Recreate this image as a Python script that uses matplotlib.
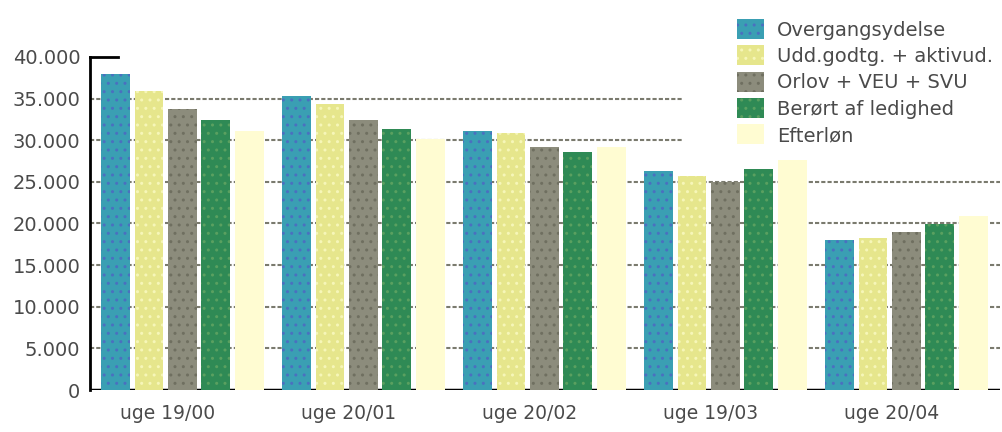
import matplotlib
matplotlib.use("Agg")
import matplotlib.pyplot as plt
import numpy as np
from matplotlib.patches import Rectangle

categories = ["uge 19/00", "uge 20/01", "uge 20/02", "uge 19/03", "uge 20/04"]
series_names = ["Overgangsydelse", "Udd.godtg. + aktivud.", "Orlov + VEU + SVU",
                "Berørt af ledighed", "Efterløn"]
overgangsydelse = [37900, 35300, 31150, 26350, 18000]
udd_godtg = [35950, 34400, 30900, 25750, 18300]
orlov = [33700, 32400, 29200, 25000, 19000]
beroert = [32400, 31400, 28600, 26600, 19900]
efterloen = [31150, 30200, 29200, 27600, 20900]
yticks = [0, 5000, 10000, 15000, 20000, 25000, 30000, 35000, 40000]
ytick_labels = ["0", "5.000", "10.000", "15.000", "20.000", "25.000", "30.000", "35.000", "40.000"]

series = [overgangsydelse, udd_godtg, orlov, beroert, efterloen]
colors = ["#3a9fb3", "#e6e68c", "#8c8c7c", "#2f8a55", "#fffcd2"]
hatchcols = ["#4a70c0", "#f6f6b8", "#6f6f60", "#5aa060", "#fffcd2"]

W, H = 1003, 432
fig = plt.figure(figsize=(W / 100, H / 100), dpi=100)
ax = fig.add_axes([90 / W, (H - 390) / H, (1000 - 90) / W, (390 - 57) / H])

plt.rcParams['hatch.linewidth'] = 1.0
x = np.arange(len(categories))
step = 0.185
width = 0.16
for k, (vals, c, hc, name) in enumerate(zip(series, colors, hatchcols, series_names)):
    ax.bar(x + (k - 2) * step, vals, width=width, color=c, edgecolor=hc, linewidth=0,
           hatch=".." if k < 4 else None, label=name, zorder=3)

ax.set_xlim(-0.511, -0.511 + 910 / 181)
ax.set_ylim(0, 40000)

for yv in yticks[1:-1]:
    ax.axhline(yv, color="#7a7a6e", lw=1.5, ls=(0, (2, 1)), zorder=1)
ax.axhline(0, color="black", lw=2.5, zorder=2)
ax.axhline(40000, xmin=0, xmax=0.031, color="black", lw=2, zorder=2, clip_on=False)

for s in ["top", "right", "bottom"]:
    ax.spines[s].set_visible(False)
ax.spines["left"].set_linewidth(2)
ax.spines["left"].set_color("black")

ax.set_yticks(yticks)
ax.set_yticklabels(ytick_labels, fontsize=14, color="#4a4a4a")
ax.set_xticks(x - 0.08)
ax.set_xticklabels(categories, fontsize=13.5, color="#4a4a4a")
ax.tick_params(axis="y", length=0, pad=7)
ax.tick_params(axis="x", length=0, pad=10)

fig.patches.append(Rectangle((683 / W, 1 - 157 / H), (W - 683) / W, 157 / H,
                             transform=fig.transFigure, facecolor="white",
                             edgecolor="none", zorder=5))

leg = fig.legend(loc="upper left", bbox_to_anchor=(737 / W, 1 - 19 / H),
                 frameon=False, fontsize=14, handlelength=1.4, handleheight=1.2,
                 handletextpad=0.65, labelspacing=0.3, borderpad=0, borderaxespad=0)
leg.set_zorder(6)
for t in leg.get_texts():
    t.set_color("#4a4a4a")

fig.savefig("out.png", dpi=100)
